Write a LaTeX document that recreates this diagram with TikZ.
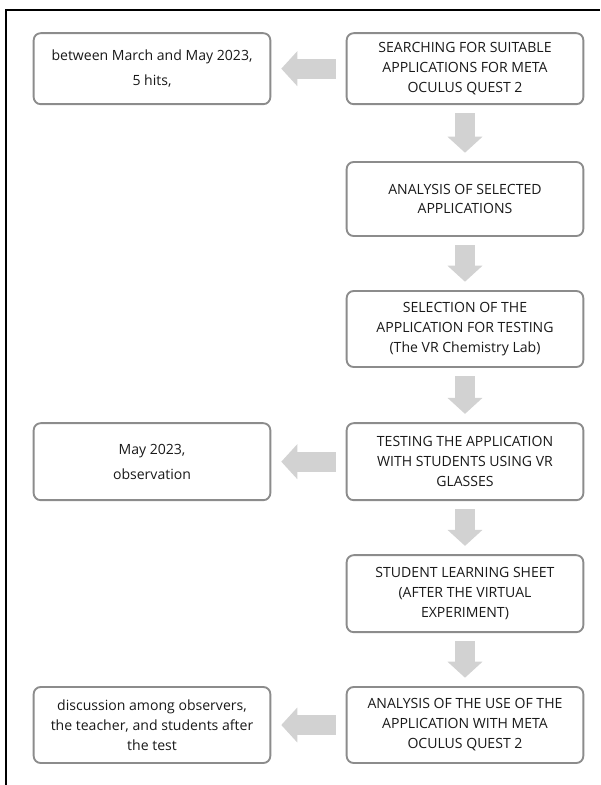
\documentclass[tikz,border=0pt]{standalone}
\usepackage{fontspec}
\setmainfont{Open Sans}
\usepackage{xcolor}
\usepackage{tikz}
\usetikzlibrary{arrows.meta}
\usetikzlibrary{positioning}
\definecolor{boxgray}{RGB}{140,140,140}
\definecolor{fatgray}{RGB}{210,210,210}
\tikzset{>=latex}
\tikzstyle{box} = [rectangle, rounded corners=6pt, draw=boxgray, line width=1.6pt, align=center, text=black!90, font=\fontsize{12}{17}\selectfont, minimum width=7.1cm, inner sep=2pt]
\tikzstyle{fat} = [-{Triangle[length=0.48cm, width=1.02cm]}, draw=fatgray, line width=0.6cm]

\begin{document}
\begin{tikzpicture}
\useasboundingbox (0, 0) rectangle (18, -23.55);
\draw [line width=2pt] (0.18, -23.55) -- (0.18, -0.3) -- (18, -0.3);
% right column
\node [box, minimum height=2.13cm] (search) at (13.95, -2.06) {SEARCHING FOR SUITABLE\\APPLICATIONS FOR META\\OCULUS QUEST 2};
\node [box, minimum height=2.22cm] (analysis) at (13.95, -5.97) {ANALYSIS OF SELECTED\\APPLICATIONS};
\node [box, minimum height=2.28cm] (selection) at (13.95, -9.87) {SELECTION OF THE\\APPLICATION FOR TESTING\\(The VR Chemistry Lab)};
\node [box, minimum height=2.31cm] (testing) at (13.95, -13.85) {TESTING THE APPLICATION\\WITH STUDENTS USING VR\\GLASSES};
\node [box, minimum height=2.31cm] (sheet) at (13.95, -17.81) {STUDENT LEARNING SHEET\\(AFTER THE VIRTUAL\\EXPERIMENT)};
\node [box, minimum height=2.28cm] (use) at (13.95, -21.75) {ANALYSIS OF THE USE OF THE\\APPLICATION WITH META\\OCULUS QUEST 2};
% left column
\node [box, minimum height=2.13cm] (hits) at (4.56, -2.06) {between March and May 2023,\\[4pt]5 hits,};
\node [box, minimum height=2.31cm] (observation) at (4.56, -13.85) {May 2023,\\[4pt]observation};
\node [box, minimum height=2.28cm] (discussion) at (4.56, -21.75) {discussion among observers,\\the teacher, and students after\\the test};
% arrows
\draw [fat, shorten <=0.25cm, shorten >=0.25cm] (search) to (analysis);
\draw [fat, shorten <=0.25cm, shorten >=0.25cm] (analysis) to (selection);
\draw [fat, shorten <=0.25cm, shorten >=0.25cm] (selection) to (testing);
\draw [fat, shorten <=0.25cm, shorten >=0.25cm] (testing) to (sheet);
\draw [fat, shorten <=0.25cm, shorten >=0.25cm] (sheet) to (use);
\draw [fat, shorten <=0.3cm, shorten >=0.3cm] (search) to (hits);
\draw [fat, shorten <=0.3cm, shorten >=0.3cm] (testing) to (observation);
\draw [fat, shorten <=0.3cm, shorten >=0.3cm] (use) to (discussion);
\end{tikzpicture}
\end{document}
